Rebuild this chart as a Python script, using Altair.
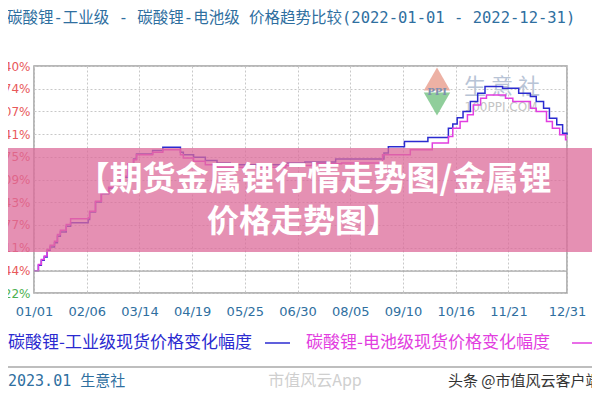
import altair as alt
import pandas as pd

# ---- data ----
early_dates = ["2022-01-01", "2022-01-04", "2022-01-06", "2022-01-08", "2022-01-10", "2022-01-12",
               "2022-01-15", "2022-01-17", "2022-01-19", "2022-01-23", "2022-01-26", "2022-02-07",
               "2022-02-08", "2022-02-12", "2022-02-16", "2022-02-21", "2022-02-25", "2022-03-01",
               "2022-03-06", "2022-03-10", "2022-03-12", "2022-03-23", "2022-03-30", "2022-04-11",
               "2022-04-13", "2022-04-20", "2022-04-28"]

industrial_dates = early_dates + [
    "2022-05-06", "2022-05-15", "2022-06-04", "2022-06-22", "2022-07-05", "2022-07-26",
    "2022-08-28", "2022-08-31", "2022-09-11", "2022-09-27", "2022-10-11", "2022-10-14",
    "2022-10-17", "2022-10-21", "2022-10-26", "2022-10-31", "2022-11-05", "2022-11-17",
    "2022-11-28", "2022-12-06", "2022-12-10", "2022-12-15", "2022-12-19", "2022-12-24",
    "2022-12-28", "2022-12-31"]
industrial = [0, 3.5, 6.5, 8.5, 12.5, 14.5,
              17, 21, 23.5, 27, 29, 31,
              35.5, 41.5, 46.5, 50, 52.5, 56.5,
              64, 67.5, 70.5, 72.5, 74.5, 71.5,
              70, 68.5, 66.5,
              65, 64, 64, 65, 65.6, 67.4,
              71, 74.8, 77.9, 80.3, 86, 88.5,
              92.3, 96, 102, 107, 111, 110,
              107, 105, 102, 98, 92, 88,
              83, 82]

battery_dates = early_dates + [
    "2022-05-06", "2022-05-15", "2022-06-04", "2022-06-22", "2022-07-10", "2022-07-30",
    "2022-08-27", "2022-09-15", "2022-09-30", "2022-10-11", "2022-10-14", "2022-10-19",
    "2022-10-24", "2022-10-28", "2022-11-02", "2022-11-06", "2022-11-19", "2022-11-24",
    "2022-12-06", "2022-12-10", "2022-12-17", "2022-12-21", "2022-12-26", "2022-12-30",
    "2022-12-31"]
battery = [0, 4, 7, 9, 13, 15.5,
           18, 22, 24.5, 28, 31.5, 32,
           36, 42, 47, 50.5, 53, 57,
           64.5, 67, 70, 71.5, 73, 70,
           68, 66, 64,
           62.5, 62.5, 62.5, 63.5, 64.5, 65,
           70, 73, 77, 81, 86, 90,
           94, 100, 104, 106, 104, 102,
           98, 96, 90, 86, 82, 79,
           79]

series_names = ["碳酸锂-工业级现货价格变化幅度", "碳酸锂-电池级现货价格变化幅度"]
series_colors = ["#2b2bd0", "#e23ee0"]

y_ticks = [-13.22, 0.44, 14.11, 27.77, 41.43, 55.09, 68.75, 82.41, 96.07, 109.74, 123.40]
x_tick_dates = [(1, 1), (2, 6), (3, 14), (4, 19), (5, 25), (6, 30), (8, 5), (9, 10),
                (10, 16), (11, 21), (12, 31)]

title_text = "碳酸锂-工业级 - 碳酸锂-电池级 价格趋势比较(2022-01-01 - 2022-12-31)"
banner_line1 = "【期货金属锂行情走势图/金属锂"
banner_line2 = "价格走势图】"
footer_text = "2023.01 生意社"

df = pd.DataFrame({
    "date": industrial_dates + battery_dates,
    "value": industrial + battery,
    "series": [series_names[0]] * len(industrial_dates) + [series_names[1]] * len(battery_dates),
})

one = pd.DataFrame({"a": [0]})

x_scale = alt.Scale(type="utc",
                    domain=[alt.DateTime(year=2022, month=1, date=1, utc=True),
                            alt.DateTime(year=2022, month=12, date=31, utc=True)])
y_scale = alt.Scale(domain=[y_ticks[0], y_ticks[-1]], nice=False, zero=False)

x_axis = alt.Axis(values=[alt.DateTime(year=2022, month=m, date=d, utc=True) for m, d in x_tick_dates],
                  format="%m/%d", title=None, domain=False, ticks=False,
                  labelColor="#2f6f9f", labelFont="DejaVu Sans", labelFontSize=13,
                  labelPadding=12, labelOverlap=False, labelFlush=False,
                  gridColor="#c8c8c8", gridDash=[2, 2], gridWidth=1)
y_axis = alt.Axis(values=y_ticks, title=None, domain=False, ticks=False,
                  labelExpr="format(datum.value, '.2f') + '%'",
                  labelColor=alt.expr("datum.value < 0 ? '#4cb050' : '#e8585a'"),
                  labelFont="DejaVu Sans", labelFontSize=12, labelPadding=4,
                  labelOverlap=False, labelFlush=False, labelBound=False,
                  gridColor="#c8c8c8", gridDash=[2, 2], gridWidth=1)

lines = alt.Chart(df).mark_line(interpolate="step-after", strokeWidth=1.5).encode(
    x=alt.X("date:T", scale=x_scale, axis=x_axis),
    y=alt.Y("value:Q", scale=y_scale, axis=y_axis),
    color=alt.Color("series:N", scale=alt.Scale(domain=series_names, range=series_colors), legend=None),
)

zero_rule = alt.Chart(pd.DataFrame({"v": [0]})).mark_rule(color="#a8a8a8", strokeWidth=1.2).encode(
    y=alt.Y("v:Q", scale=y_scale, axis=y_axis))

# page coords -> plot coords: x - 34, y - 66
def txt(text, x, y, size, color, align="left", weight="normal", font="Noto Sans CJK SC"):
    return alt.Chart(one).mark_text(align=align, baseline="middle", fontSize=size, color=color,
                                    fontWeight=weight, font=font).encode(
        x=alt.value(x), y=alt.value(y), text=alt.value(text))

# 生意社 logo watermark
logo_up = alt.Chart(one).mark_point(shape="triangle-up", filled=True, size=700, color="#eaa394",
                                    opacity=0.85).encode(x=alt.value(403), y=alt.value(13))
logo_down = alt.Chart(one).mark_point(shape="triangle-down", filled=True, size=700, color="#7cc58a",
                                      opacity=0.85).encode(x=alt.value(403), y=alt.value(38))
logo_ppi = txt("PPI", 403, 26, 10, "#7f8fb0", align="center", weight="bold", font="DejaVu Serif")
logo_name = txt("生 意 社", 468, 21, 22, "#b8c4d6", align="center")
logo_url = txt("100PPI.COM", 467, 41, 12, "#c4c4c4", align="center", font="DejaVu Sans")

banner = alt.Chart(one).mark_rect(color="#dc6b9a", opacity=0.75).encode(
    x=alt.value(-40), x2=alt.value(570), y=alt.value(82), y2=alt.value(186))
b1 = txt(banner_line1, 280, 114, 33, "white", align="center", weight="bold")
b2 = txt(banner_line2, 269, 156, 32, "white", align="center", weight="bold")

title = txt(title_text, -27, -48, 15.5, "#2f6f9f", font="DejaVu Sans Mono, Noto Sans CJK SC")

leg1 = txt(series_names[0], -26, 277, 17, series_colors[0])
leg1_line = alt.Chart(one).mark_rule(color=series_colors[0], strokeWidth=1.5).encode(
    x=alt.value(231), x2=alt.value(256), y=alt.value(277))
leg2 = txt(series_names[1], 272, 277, 17, series_colors[1])
leg2_line = alt.Chart(one).mark_rule(color=series_colors[1], strokeWidth=1.5).encode(
    x=alt.value(538), x2=alt.value(562), y=alt.value(277))

sep = alt.Chart(one).mark_rule(color="#a8a8a8", strokeWidth=1.5).encode(
    x=alt.value(-40), x2=alt.value(570), y=alt.value(301))
footer = txt(footer_text, -26, 315, 15, "#2f6f9f", font="DejaVu Sans Mono, Noto Sans CJK SC")
wm1 = txt("市值风云App", 281, 315, 16, "#cfcfcf", align="center")
wm2 = txt("头条 @市值风云客户端", 414, 315, 15, "#333333")

chart = alt.layer(
    logo_up, logo_down, logo_ppi, logo_name, logo_url,
    lines, zero_rule,
    banner, b1, b2,
    title, leg1, leg1_line, leg2, leg2_line, sep, footer, wm1, wm2,
).properties(
    width=533, height=227,
    autosize=alt.AutoSizeParams(type="none"),
    padding={"left": 26, "top": 58, "right": 25, "bottom": 99},
    background="white",
).configure_view(stroke="#a0a0a0", strokeWidth=1.5)

chart.save("out.html", embed_options={"renderer": "svg", "actions": False})
